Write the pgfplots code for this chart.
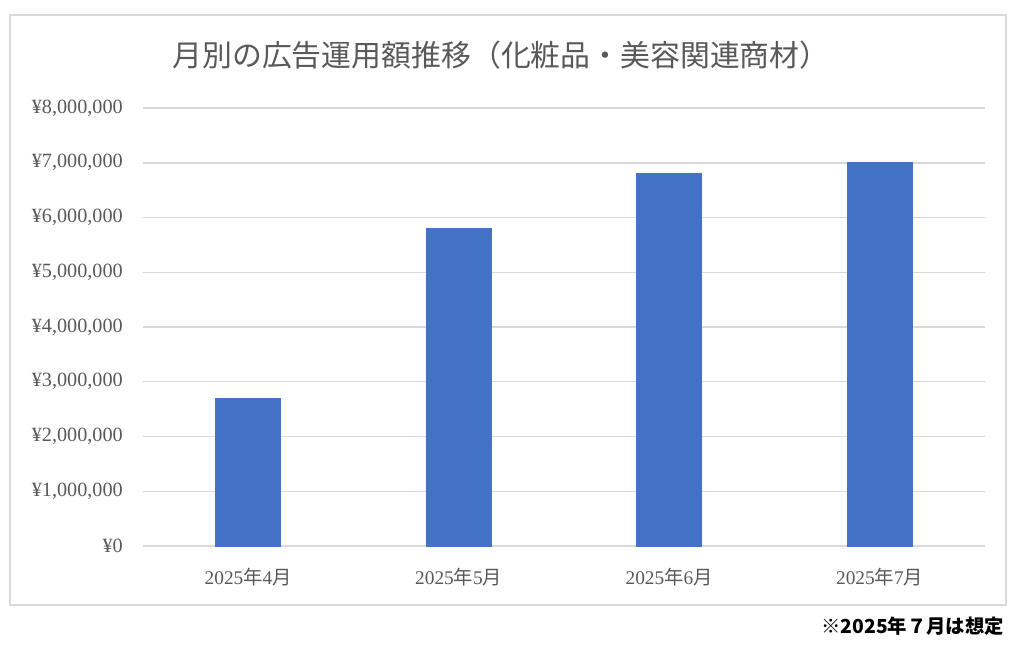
\documentclass[border=0pt]{standalone}
\usepackage{fontspec}
\setmainfont{Liberation Serif}
\newfontfamily\cjk{Noto Sans CJK JP}
\usepackage{pgfplots}
\pgfplotsset{compat=1.18}
\definecolor{barblue}{HTML}{4472C4}
\definecolor{txtgray}{HTML}{595959}
\definecolor{gridgray}{HTML}{D9D9D9}
\begin{document}
\begin{tikzpicture}[x=0.02cm,y=0.02cm]
\useasboundingbox (0,0) rectangle (1024,663);
\draw[gridgray, line width=0.8pt] (10,58) rectangle (1006,648);
\node[txtgray, font=\cjk\fontsize{17}{20}\selectfont] at (501,608)
  {月別の広告運用額推移（化粧品・美容関連商材）};
\node[anchor=east, font=\cjk\fontsize{11}{13}\selectfont\bfseries] at (1010,37)
  {※2025年７月は想定};
\coordinate (O) at (143,117);
\begin{axis}[
    at={(O)}, anchor=south west,
    scale only axis,
    width=16.84cm, height=8.76cm,
    xmin=-0.5, xmax=3.5,
    ymin=0, ymax=8000000,
    axis x line*=bottom,
    axis y line*=left,
    x axis line style={gridgray, line width=0.8pt, -},
    y axis line style={draw=none},
    ymajorgrids,
    grid style={gridgray, line width=0.8pt},
    xtick={0,1,2,3},
    xticklabels={2025{\cjk 年}4{\cjk 月},2025{\cjk 年}5{\cjk 月},2025{\cjk 年}6{\cjk 月},2025{\cjk 年}7{\cjk 月}},
    x tick label style={txtgray, font=\fontsize{11}{13}\selectfont, yshift=-5pt},
    major x tick style={draw=none},
    ytick={0,1000000,2000000,3000000,4000000,5000000,6000000,7000000,8000000},
    yticklabels={¥0,{¥1,000,000},{¥2,000,000},{¥3,000,000},{¥4,000,000},{¥5,000,000},{¥6,000,000},{¥7,000,000},{¥8,000,000}},
    y tick label style={txtgray, font=\fontsize{11.5}{13}\selectfont},
    ytick style={draw=none},
    yticklabel style={xshift=-8pt},
    scaled y ticks=false,
    ybar, bar width=1.3cm,
  ]
\addplot[fill=barblue, draw=barblue] coordinates {(0,2700000) (1,5800000) (2,6800000) (3,7000000)};
\end{axis}
\end{tikzpicture}
\end{document}
